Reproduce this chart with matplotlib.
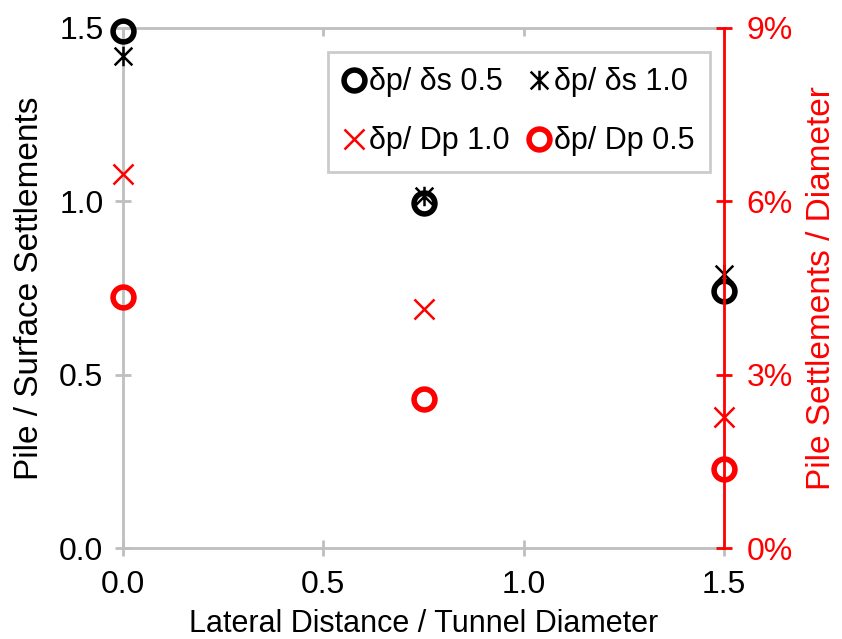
import matplotlib
matplotlib.use("Agg")
import matplotlib.pyplot as plt
from matplotlib.path import Path
from matplotlib.ticker import FuncFormatter, FixedLocator

plt.rcParams['font.family'] = ['Liberation Sans', 'DejaVu Sans']

# Lateral distance / tunnel diameter
x = [0.0, 0.75, 1.5]
# Pile / surface settlement ratio (left axis)
ratio_05 = [1.49, 0.995, 0.74]
ratio_10 = [1.42, 1.015, 0.79]
# Pile settlement / diameter (right axis, fraction)
dp_10 = [0.0647, 0.0414, 0.0227]
dp_05 = [0.0434, 0.0258, 0.0137]

labels = ["δp/ δs 0.5", "δp/ δs 1.0", "δp/ Dp 1.0", "δp/ Dp 0.5"]
x_ticks = [0.0, 0.5, 1.0, 1.5]
y_ticks = [0.0, 0.5, 1.0, 1.5]
y2_ticks = [0.0, 0.03, 0.06, 0.09]

GRAY = "#BFBFBF"
RED = "#FF0000"
FS_TICK = 23
FS_XLABEL = 22
FS_YLABEL = 24
FS_LEG = 22

# asterisk-like marker: an X crossed by a vertical bar
star = Path([(-1, -1), (1, 1), (-1, 1), (1, -1), (0, -1.1), (0, 1.1)],
            [Path.MOVETO, Path.LINETO, Path.MOVETO, Path.LINETO, Path.MOVETO, Path.LINETO])

fig = plt.figure(figsize=(8.42, 6.39), dpi=100)
ax = fig.add_axes([0.146, 0.1424, 0.714, 0.8138])
ax2 = ax.twinx()

ax.set_xlim(0, 1.5)
ax.set_ylim(0, 1.5)
ax2.set_ylim(0, 0.09)

h1, = ax.plot(x, ratio_05, ls="none", marker="o", ms=15, mfc="none", mec="black",
              mew=4, clip_on=False, zorder=5)
h2, = ax.plot(x, ratio_10, ls="none", marker=star, ms=14, mfc="none", mec="black",
              mew=1.8, clip_on=False, zorder=4)
h3, = ax2.plot(x, dp_10, ls="none", marker="x", ms=15, mec=RED, mew=1.8,
               clip_on=False, zorder=4)
h4, = ax2.plot(x, dp_05, ls="none", marker="o", ms=15, mfc="none", mec=RED,
               mew=4, clip_on=False, zorder=5)

ax.xaxis.set_major_locator(FixedLocator(x_ticks))
ax.yaxis.set_major_locator(FixedLocator(y_ticks))
ax2.yaxis.set_major_locator(FixedLocator(y2_ticks))
ax.xaxis.set_major_formatter(FuncFormatter(lambda v, p: f"{v:.1f}"))
ax.yaxis.set_major_formatter(FuncFormatter(lambda v, p: f"{v:.1f}"))
ax2.yaxis.set_major_formatter(FuncFormatter(lambda v, p: f"{v*100:.0f}%"))

for s in ["left", "bottom", "top"]:
    ax.spines[s].set_color(GRAY)
    ax.spines[s].set_linewidth(2)
ax.spines["right"].set_visible(False)
for s in ["left", "bottom", "top"]:
    ax2.spines[s].set_visible(False)
ax2.spines["right"].set_color(RED)
ax2.spines["right"].set_linewidth(2)

ax.tick_params(axis="x", direction="inout", length=12, width=2, color=GRAY,
               labelsize=FS_TICK, pad=10)
ax.tick_params(axis="y", direction="inout", length=12, width=2, color=GRAY,
               labelsize=FS_TICK, pad=8)
ax2.tick_params(axis="y", direction="inout", length=12, width=2, color=RED,
                labelcolor=RED, labelsize=FS_TICK, pad=10)

# unlabelled inward ticks along the top edge
top = ax.secondary_xaxis("top")
top.set_xticks(x_ticks)
top.tick_params(direction="in", length=6, width=2, color=GRAY, labeltop=False)
top.spines["top"].set_visible(False)

ax.set_xlabel("Lateral Distance / Tunnel Diameter", fontsize=FS_XLABEL, labelpad=6)
ax.set_ylabel("Pile / Surface Settlements", fontsize=FS_YLABEL, labelpad=10)
ax2.set_ylabel("Pile Settlements / Diameter", fontsize=FS_YLABEL, color=RED, labelpad=10)

leg = ax2.legend([h1, h3, h2, h4], [labels[0], labels[2], labels[1], labels[3]],
                 ncol=2, loc="upper left", bbox_to_anchor=(0.3895, 0.9186),
                 bbox_transform=fig.transFigure, borderaxespad=0,
                 fontsize=FS_LEG, frameon=True,
                 fancybox=False, edgecolor=GRAY, handlelength=0.7,
                 handletextpad=0.15, columnspacing=0.6, labelspacing=0.95,
                 borderpad=0.5)
leg.get_frame().set_linewidth(2)

fig.savefig("out.png", dpi=100)
